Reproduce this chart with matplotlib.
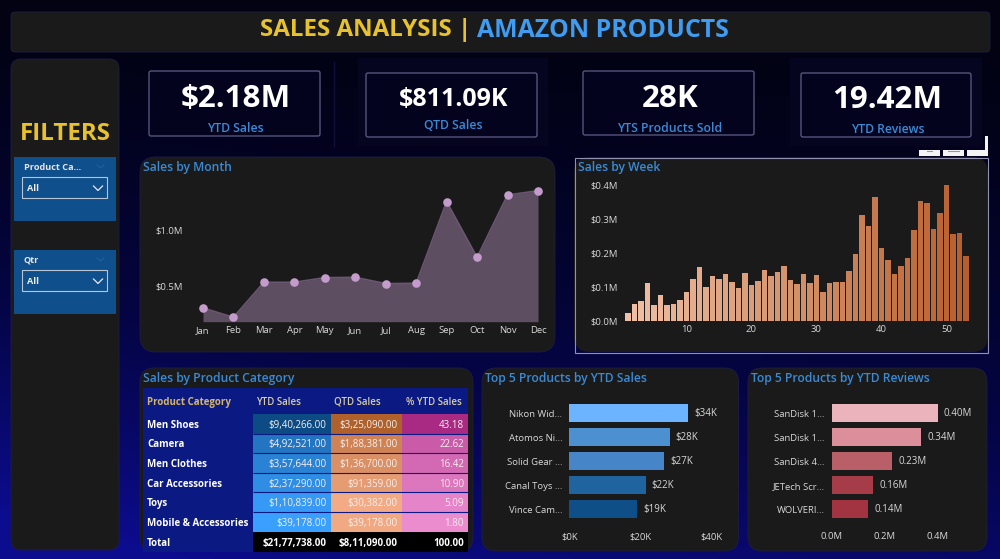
import numpy as np
import matplotlib
matplotlib.use("Agg")
import matplotlib.pyplot as plt
from matplotlib.patches import FancyBboxPatch, Rectangle
from matplotlib.colors import LinearSegmentedColormap, Normalize
from matplotlib.table import Table

plt.rcParams['font.family'] = ['Open Sans', 'DejaVu Sans']

months = ['Jan','Feb','Mar','Apr','May','Jun','Jul','Aug','Sep','Oct','Nov','Dec']
month_sales = [0.305,0.222,0.533,0.533,0.574,0.577,0.521,0.524,1.249,0.754,1.308,1.346]
weeks = list(range(1,54))
week_sales = [0.023,0.05,0.059,0.113,0.047,0.078,0.049,0.052,0.063,0.085,0.123,0.158,0.10,0.134,0.123,0.14,0.114,0.097,
              0.141,0.106,0.117,0.152,0.134,0.145,0.162,0.12,0.108,0.138,0.112,0.137,0.086,0.113,0.116,0.115,0.149,0.197,
              0.311,0.279,0.366,0.214,0.179,0.14,0.163,0.186,0.268,0.354,0.346,0.272,0.319,0.40,0.257,0.26,0.192]
categories = ['Men Shoes','Camera','Men Clothes','Car Accessories','Toys','Mobile & Accessories']
ytd_vals = [940266,492521,357644,237290,110839,39178]
qtd_vals = [325090,188381,136700,91359,30382,39178]
pct_vals = [43.18,22.62,16.42,10.90,5.09,1.80]
ytd_text = ['$9,40,266.00','$4,92,521.00','$3,57,644.00','$2,37,290.00','$1,10,839.00','$39,178.00']
qtd_text = ['$3,25,090.00','$1,88,381.00','$1,36,700.00','$91,359.00','$30,382.00','$39,178.00']
total_row = ['Total','$21,77,738.00','$8,11,090.00','100.00']
table_cols = ['Product Category','YTD Sales','QTD Sales','% YTD Sales']
top_products = ['Nikon Wid...','Atomos Ni...','Solid Gear ...','Canal Toys ...','Vince Cam...']
top_sales = [33.4,28.3,26.7,21.5,19.2]
top_sales_labels = ['$34K','$28K','$27K','$22K','$19K']
top_reviewed = ['SanDisk 1...','SanDisk 1...','SanDisk 4...','JETech Scr...','WOLVERI...']
top_reviews = [0.40,0.337,0.228,0.156,0.139]
top_reviews_labels = ['0.40M','0.34M','0.23M','0.16M','0.14M']
kpi_values = ['$2.18M','$811.09K','28K','19.42M']
kpi_labels = ['YTD Sales','QTD Sales','YTS Products Sold','YTD Reviews']

W, H = 1000, 559
PANEL = '#1a1a1a'
BLUE = '#3a8ad6'
GOLD = '#e8c22e'
TICK = '#d8d8d8'

fig = plt.figure(figsize=(10, 5.59), dpi=100)
bg = fig.add_axes([0, 0, 1, 1])
bg.set_xlim(0, W); bg.set_ylim(H, 0); bg.axis('off')

# page gradient: near black at top, deep blue at bottom and left
yy, xx = np.mgrid[0:1:140j, 0:1:250j]
t = np.clip(yy**1.5 * (1.0 - 0.30*xx) + 0.45 * np.clip(0.3 - xx, 0, 1) * yy, 0, 1)
bg_cmap = LinearSegmentedColormap.from_list('bgc', ['#020212', '#05054a', '#0c0c8e'])
bg.imshow(t, extent=[0, W, H, 0], cmap=bg_cmap, vmin=0, vmax=1, aspect='auto', zorder=0)

def panel(x0, y0, x1, y1, r=14, fc=PANEL, ec='#1e1e40', lw=0.6, z=1):
    bg.add_patch(FancyBboxPatch((x0, y0), x1-x0, y1-y0, boxstyle=f'round,pad=0,rounding_size={r}',
                                fc=fc, ec=ec, lw=lw, zorder=z))

def label(x, y, s, fs, color, ha='center', weight='normal', z=4):
    bg.text(x, y + 0.14*fs, s, ha=ha, va='center', color=color, fontsize=fs, fontweight=weight, zorder=z)

def sub_axes(x0, y0, x1, y1):
    a = fig.add_axes([x0/W, 1-y1/H, (x1-x0)/W, (y1-y0)/H])
    a.patch.set_alpha(0)
    for s in a.spines.values():
        s.set_visible(False)
    a.tick_params(length=0, colors=TICK, labelsize=6.8)
    return a

# title bar
panel(11, 12, 990, 52, r=4)
label(471, 28, 'SALES ANALYSIS |', 17.35, GOLD, ha='right', weight='bold')
label(477, 28, 'AMAZON PRODUCTS', 17.9, '#3f9cf0', ha='left', weight='bold')

# filters
panel(11, 59, 119, 550, r=10)
label(65, 132, 'FILTERS', 17.4, GOLD, weight='bold')
for y0, lab in [(157, 'Product Ca...'), (250, 'Qtr')]:
    bg.add_patch(Rectangle((14, y0), 102, 64, fc='#0f4f8c', ec='none', zorder=2))
    label(24, y0+9.5, lab, 6.6, '#e6e6e6', ha='left', weight='bold')
    bg.add_patch(Rectangle((22, y0+20), 85, 21, fc='#0f4f8c', ec='#b8c6d6', lw=0.8, zorder=3))
    label(27, y0+31, 'All', 6.6, '#f0f0f0', ha='left', weight='bold')
    bg.plot([93.5, 98, 102.5], [y0+29, y0+33.5, y0+29], color='#e8e8e8', lw=0.9, zorder=4)
    bg.plot([97, 100.5, 104], [y0+8, y0+11, y0+8], color='#24609a', lw=0.8, zorder=4)

# KPI cards
bg.plot([333.5, 333.5], [62, 146], color='#10103a', lw=1, zorder=1)
bg.add_patch(Rectangle((358, 58), 190, 88, fc='#05051f', ec='none', zorder=1))
bg.add_patch(Rectangle((790, 58), 192, 88, fc='#05051f', ec='none', zorder=1))
cards = [(149, 71, 320, 136, 235.5, 96, 127, 22.6), (366, 73, 537, 137, 453.5, 97, 124, 18),
         (583, 71, 754, 135, 670, 96, 127, 22.6), (801, 73, 971, 137, 887.5, 97, 128, 22.6)]
for (x0, y0, x1, y1, cx, vy, ly, fs), val, lab in zip(cards, kpi_values, kpi_labels):
    panel(x0, y0, x1, y1, r=2, fc='#03031e', ec='#5e5e86', lw=0.9, z=2)
    label(cx, vy, val, fs, 'white', weight='bold')
    label(cx, ly, lab, 8.8, BLUE, weight='semibold')

# panels
panel(140, 157, 555, 352, r=16)
panel(574, 157, 988, 352, r=16, lw=0)
bg.add_patch(Rectangle((574.5, 157.5), 413, 195, fc='none', ec='#9090b0', lw=0.8, zorder=2))
panel(140, 368, 473, 551, r=14)
panel(482, 368, 738.5, 551, r=14)
panel(748, 368, 987, 551, r=14)
for x, y, s in [(143, 166, 'Sales by Month'), (578, 166, 'Sales by Week'), (143, 377, 'Sales by Product Category'),
                (485, 377, 'Top 5 Products by YTD Sales'), (751, 377, 'Top 5 Products by YTD Reviews')]:
    label(x, y, s, 8.7, BLUE, ha='left', weight='semibold')

# visual header icons above Sales by Week
for x0, x1 in [(919, 940), (943, 964), (967, 988)]:
    bg.add_patch(Rectangle((x0, 150), x1-x0, 5.5, fc='#f4f4f4', ec='none', zorder=3))
bg.add_patch(Rectangle((985, 136), 3, 19, fc='#f4f4f4', ec='none', zorder=3))
bg.plot([927, 932], [150.5, 150.5], color='#999999', lw=0.8, zorder=4)
bg.plot([948, 959], [150.5, 150.5], color='#999999', lw=0.8, zorder=4)

# month area
ax = sub_axes(203, 170, 538, 321.7)
xs = np.arange(len(months))
ax.fill_between(xs, month_sales, 0.183, color='#5e4e62', lw=0)
ax.plot(xs, month_sales, color='#6a5670', lw=1.2)
ax.plot(xs, month_sales, 'o', color='#c49ccb', ms=6.2, mew=0, clip_on=False, zorder=5)
ax.set_xlim(0, 11); ax.set_ylim(0.183, 1.53)
ax.set_xticks(xs, months); ax.set_yticks([0.5, 1.0], ['$0.5M', '$1.0M'])
ax.tick_params(axis='x', pad=3); ax.tick_params(axis='y', pad=14.5)

# week bars
ax = sub_axes(621.5, 185, 969.5, 321.3)
wk_cmap = LinearSegmentedColormap.from_list('wk', ['#f0bfa5', '#d3916a', '#b85e2e'])
ax.bar(weeks, week_sales, width=0.82, color=wk_cmap(np.linspace(0, 1, len(weeks))), lw=0)
ax.set_xlim(0, 53.54); ax.set_ylim(0, 0.4)
ax.set_xticks([10, 20, 30, 40, 50]); ax.set_yticks([0, 0.1, 0.2, 0.3, 0.4], ['$0.0M', '$0.1M', '$0.2M', '$0.3M', '$0.4M'])
ax.tick_params(axis='x', pad=3); ax.tick_params(axis='y', pad=3)

# table
ax = sub_axes(143, 388, 468, 551.6)
ax.set_xticks([]); ax.set_yticks([])
ax.set_xlim(0, 1); ax.set_ylim(0, 1)
col_w = [109.5/325, 78/325, 71/325, 66.5/325]
NAVY = '#0a1a82'
ytd_cm = LinearSegmentedColormap.from_list('y', ['#3aa0ff', '#0d4b85'])
qtd_cm = LinearSegmentedColormap.from_list('q', ['#f2ab84', '#b0602a'])
pct_cm = LinearSegmentedColormap.from_list('p', ['#ea8cce', '#a82a82'])
ytd_n = Normalize(min(ytd_vals), max(ytd_vals))
qtd_n = Normalize(min(qtd_vals), max(qtd_vals))
pct_n = Normalize(min(pct_vals), max(pct_vals))
hr, rr, tr = 26/163.6, 19.6/163.6, 20/163.6
tb = Table(ax, bbox=[0, 0, 1, 1])

def style(cell, c, color, weight):
    cell.PAD = 4/(col_w[c]*325)
    cell.set_linewidth(0)
    t_ = cell.get_text()
    t_.set_color(color); t_.set_fontweight(weight); t_.set_verticalalignment('center_baseline')

for c, name in enumerate(table_cols):
    cell = tb.add_cell(0, c, col_w[c], hr, text=name, loc='left', facecolor=NAVY, edgecolor=NAVY)
    style(cell, c, '#d6b568' if c == 0 else '#d8cda8', 'bold' if c == 0 else 'semibold')
for r, cat in enumerate(categories, start=1):
    i = r-1
    cols = [(cat, NAVY, 'left', 'bold'),
            (ytd_text[i], ytd_cm(ytd_n(ytd_vals[i])), 'right', 'normal'),
            (qtd_text[i], qtd_cm(qtd_n(qtd_vals[i])), 'right', 'normal'),
            (f'{pct_vals[i]:.2f}', pct_cm(pct_n(pct_vals[i])), 'right', 'normal')]
    for c, (txt, fc, loc, w) in enumerate(cols):
        cell = tb.add_cell(r, c, col_w[c], rr, text=txt, loc=loc, facecolor=fc, edgecolor=fc)
        style(cell, c, 'white' if c == 0 else '#f6f0f0', w)
for c, txt in enumerate(total_row):
    fc = NAVY if c == 0 else 'black'
    cell = tb.add_cell(7, c, col_w[c], tr, text=txt, loc='left' if c == 0 else 'right', facecolor=fc, edgecolor=fc)
    style(cell, c, 'white', 'bold')
tb.auto_set_font_size(False)
tb.set_fontsize(7.0)
ax.add_table(tb)
sep_y = 1 - (hr + rr*np.arange(0, len(categories)+1))
ax.hlines(sep_y[1:-1], col_w[0], 1, color=NAVY, lw=0.8, zorder=10)
bg.add_patch(plt.Polygon([[257.5, 405.5], [264.5, 405.5], [261, 409.5]], fc=GOLD, ec='none', zorder=3))

# top 5 bars
def hbars(box, labels, vals, val_labels, colors, xmax, ticks, ticklabels, off):
    a = sub_axes(*box)
    ys = np.arange(len(labels))
    a.barh(ys, vals, height=0.76, color=colors, lw=0)
    a.set_xlim(0, xmax); a.set_ylim(len(labels)-0.5, -0.5)
    a.set_yticks(ys, labels); a.set_xticks(ticks, ticklabels)
    a.tick_params(axis='y', pad=5); a.tick_params(axis='x', pad=8)
    for y, v, s in zip(ys, vals, val_labels):
        a.annotate(s, (v, y), xytext=(off, 0), textcoords='offset points', va='center', ha='left',
                   color=TICK, fontsize=7, annotation_clip=False)

hbars((569.4, 401.3, 711, 521.3), top_products, top_sales, top_sales_labels,
      ['#6cb4ff', '#4c90d0', '#4686c8', '#1f649f', '#0f4f88'], 40, [0, 20, 40], ['$0K', '$20K', '$40K'], 4.5)
hbars((831.5, 401.3, 937.5, 521.3), top_reviewed, top_reviews, top_reviews_labels,
      ['#ebb4bc', '#db8f9a', '#b95f68', '#a63c47', '#a23340'], 0.4, [0, 0.2, 0.4], ['0.0M', '0.2M', '0.4M'], 4.5)

fig.savefig('out.png', dpi=100)
